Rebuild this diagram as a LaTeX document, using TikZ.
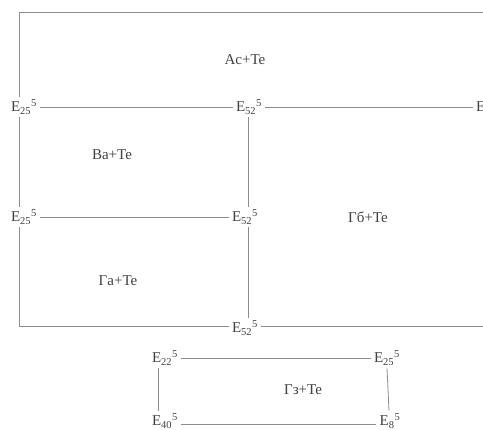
\documentclass[tikz,border=0pt]{standalone}
\usepackage{fontspec}
\setmainfont{Liberation Serif}
\usetikzlibrary{positioning, calc}

\newcommand{\lvl}[2]{E\textsubscript{#1}\textsuperscript{#2}}

\begin{document}
\begin{tikzpicture}[
  x=1pt, y=-1pt,
  elab/.style={inner sep=3pt, text=black!75, font=\fontsize{15}{17}\selectfont},
  region/.style={text=black!75, font=\fontsize{15}{17}\selectfont},
  border/.style={draw=black!45, line width=0.8pt}
]
\useasboundingbox (0,0) rectangle (483,430);

% corners of the big frame
\coordinate (tl) at (19,12);
\coordinate (tr) at (490,12);
\coordinate (bl) at (19,326);
\coordinate (br) at (490,326);

% level labels
\node[elab] (e25a) at (24,107) {\lvl{25}{5}};
\node[elab] (e52a) at (249,107) {\lvl{52}{5}};
\node[elab] (e52r) at (489,107) {\lvl{52}{5}};
\node[elab] (e25b) at (24,217) {\lvl{25}{5}};
\node[elab] (e52b) at (245,217) {\lvl{52}{5}};
\node[elab] (e52c) at (245,328) {\lvl{52}{5}};
\coordinate (mid) at (248,0);

\node[elab] (e22) at (165,358) {\lvl{22}{5}};
\node[elab] (e25c) at (387,358) {\lvl{25}{5}};
\node[elab] (e40) at (165,421) {\lvl{40}{5}};
\node[elab] (e8) at (390,421) {\lvl{8}{5}};

% regions
\node[region] (ac) at (245,60) {Ac+Te};
\node[region] (ba) at (112,155) {Ba+Te};
\node[region] (gb) at (368,217) {Гб+Te};
\node[region] (ga) at (118,281) {Гa+Te};
\node[region] (gz) at (303,390) {Гз+Te};

% big frame
\draw[border] (tr) -- (tl) -- (e25a.north -| tl);
\draw[border] (e25a.south -| tl) -- (e25b.north -| tl);
\draw[border] (e25b.south -| tl) -- (bl) -- (e52c.west |- bl);
\draw[border] (e52c.east |- bl) -- (br);

% inner boundaries
\draw[border] (e25a) -- (e52a);
\draw[border] (e52a) -- (e52r);
\draw[border] (e25b) -- (e52b);
\draw[border] (e52a.south -| mid) -- (e52b.north -| mid);
\draw[border] (e52b.south -| mid) -- (e52c.north -| mid);

% small box
\draw[border] (e22) -- (e25c);
\draw[border] ([yshift=-3pt]e40.east) -- ([yshift=-3pt]e8.west);
\draw[border] ([xshift=-7pt]e22.south) -- ([xshift=-7pt]e40.north);
\draw[border] (e25c.south) -- ([xshift=-1pt]e8.north);
\end{tikzpicture}
\end{document}
